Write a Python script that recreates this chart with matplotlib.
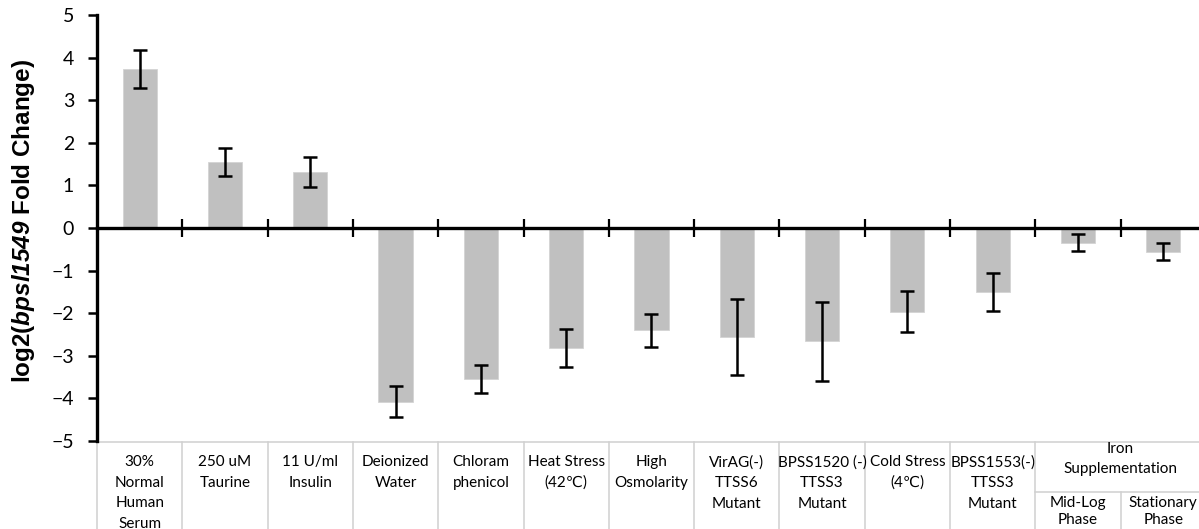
import matplotlib.pyplot as plt
from matplotlib.transforms import blended_transform_factory

plt.rcParams['font.family'] = ['Lato', 'DejaVu Sans']
plt.rcParams['mathtext.fontset'] = 'custom'
plt.rcParams['mathtext.rm'] = 'Liberation Sans:bold'
plt.rcParams['mathtext.bfit'] = 'Liberation Sans:bold:italic'

# data
labels = ["30%\nNormal\nHuman\nSerum", "250 uM\nTaurine", "11 U/ml\nInsulin",
          "Deionized\nWater", "Chloram\nphenicol", "Heat Stress\n(42\u2103)",
          "High\nOsmolarity", "VirAG(-)\nTTSS6\nMutant", "BPSS1520 (-)\nTTSS3\nMutant",
          "Cold Stress\n(4\u2103)", "BPSS1553(-)\nTTSS3\nMutant",
          "Mid-Log\nPhase", "Stationary\nPhase"]
group_label = "Iron\nSupplementation"
group_members = [11, 12]
values = [3.74, 1.55, 1.32, -4.08, -3.55, -2.82, -2.40, -2.56, -2.66, -1.97, -1.51, -0.35, -0.56]
errors = [0.45, 0.32, 0.35, 0.36, 0.33, 0.45, 0.39, 0.90, 0.93, 0.48, 0.45, 0.20, 0.20]
yticks = [-5, -4, -3, -2, -1, 0, 1, 2, 3, 4, 5]

W, H = 1199, 529
fig = plt.figure(figsize=(W / 100, H / 100), dpi=100)
cat_px = 85.3
ax = fig.add_axes([97 / W, 1 - 441 / H, len(values) * cat_px / W, (441 - 15) / H])

x = list(range(len(values)))
ax.bar(x, values, width=0.4, color='#C0C0C0', edgecolor='#D4D4D4', linewidth=0.6, zorder=1)
ax.errorbar(x, values, yerr=errors, fmt='none', ecolor='black', elinewidth=1.8,
            capsize=4.8, capthick=1.8, zorder=2)

ax.set_xlim(-0.5, len(values) - 0.5)
ax.set_ylim(-5, 5)
ax.set_yticks(yticks)
ax.set_xticks([i + 0.5 for i in range(len(values) - 1)])
ax.set_xticklabels([])

for s in ['top', 'right']:
    ax.spines[s].set_visible(False)
ax.spines['left'].set_linewidth(2.4)
ax.spines['bottom'].set_position(('data', 0))
ax.spines['bottom'].set_linewidth(2.4)
ax.spines['bottom'].set_zorder(3)
ax.tick_params(axis='x', direction='inout', length=13, width=1.6, color='black')
ax.tick_params(axis='y', direction='out', length=6.5, width=1.8, pad=10, labelsize=14)

fig.text(24 / W, 1 - 221 / H, r'log2($\mathbfit{bpsl1549}$ Fold Change)',
         rotation=90, ha='center', va='center', fontsize=17.5,
         family='Liberation Sans', weight='bold')

# data table under the axis
tr = blended_transform_factory(ax.transData, fig.transFigure)
def fy(px):
    return 1 - px / H

grid = '#D0D0D0'
top_px, mid_px = 442, 492
n = len(values)
ax.plot([-0.5, n - 0.5], [fy(top_px)] * 2, transform=tr, color=grid, lw=1.1, clip_on=False)
for i in range(n + 1):
    b = i - 0.5
    y0 = mid_px if b == group_members[0] + 0.5 else top_px
    ax.plot([b, b], [fy(y0), 0], transform=tr, color=grid, lw=1.1, clip_on=False)
ax.plot([group_members[0] - 0.5, group_members[-1] + 0.5], [fy(mid_px)] * 2,
        transform=tr, color=grid, lw=1.1, clip_on=False)

for i, lab in enumerate(labels):
    top = 496 if i in group_members else 455
    ls = 1.3 if i in group_members else 1.6
    ax.text(i, fy(top), lab, transform=tr, ha='center', va='top', fontsize=11,
            linespacing=ls, clip_on=False)
gx = sum(group_members) / len(group_members)
ax.text(gx, fy(442), group_label, transform=tr, ha='center', va='top', fontsize=11,
        linespacing=1.5, clip_on=False)

fig.savefig('out.png', dpi=100)
